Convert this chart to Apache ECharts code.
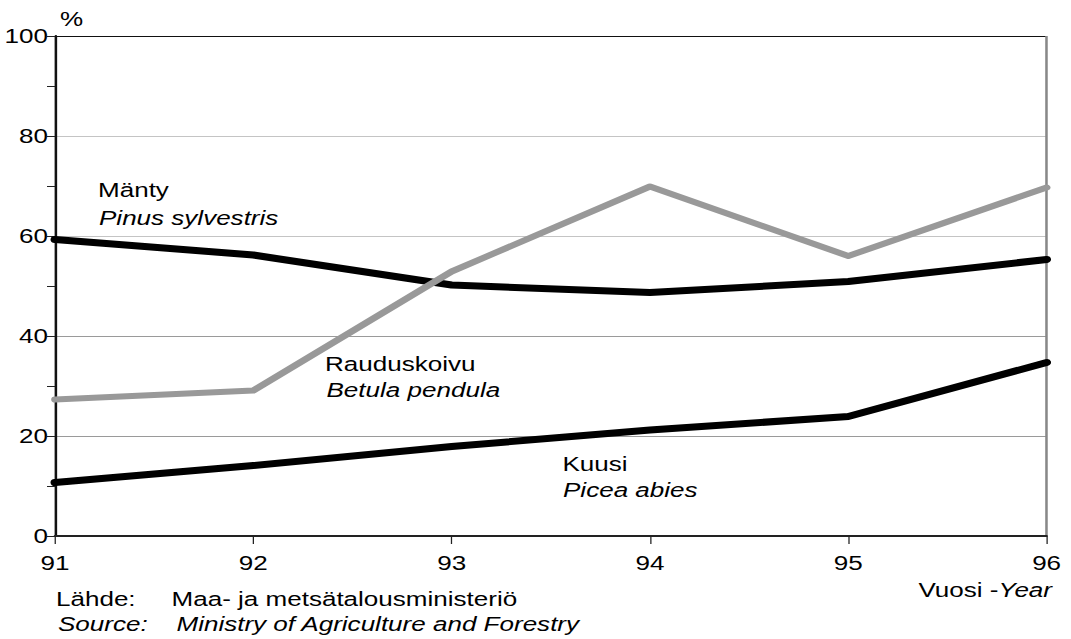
<!DOCTYPE html>
<html>
<head>
<meta charset="utf-8">
<script src="https://cdn.jsdelivr.net/npm/echarts@6/dist/echarts.min.js"></script>
<style>
  html, body { margin: 0; padding: 0; background: #fff; overflow: hidden; }
  #chart { width: 843.3px; height: 639px; transform: scaleX(1.27); transform-origin: 0 0; }
</style>
</head>
<body>
<div id="chart"></div>
<script>
// Data
const years = ['91', '92', '93', '94', '95', '96'];
const manty = [59.3, 56.2, 50.2, 48.7, 50.9, 55.3];
const rauduskoivu = [27.3, 29.1, 52.9, 69.9, 56.0, 69.7];
const kuusi = [10.7, 14.1, 17.9, 21.2, 23.9, 34.7];
const yTicks = [0, 20, 40, 60, 80, 100];

const S = 1.27; // horizontal stretch of the original picture
const FONT = 'Liberation Sans, Arial, sans-serif';
const FS = 20.5;
const px = v => v / S;

const chart = echarts.init(document.getElementById('chart'), null, { renderer: 'svg' });

function txt(text, x, y, italic, align) {
  return {
    type: 'text', x: px(x), y: y,
    style: {
      text: text, fill: '#000',
      font: (italic ? 'italic ' : '') + FS + 'px ' + FONT,
      align: align || 'left', verticalAlign: 'middle'
    }
  };
}

const option = {
  animation: false,
  backgroundColor: '#fff',
  grid: { left: px(55), right: px(24), top: 36, bottom: 103 },
  xAxis: {
    type: 'category',
    data: years,
    boundaryGap: false,
    axisLine: { lineStyle: { color: '#222', width: 2 } },
    axisTick: { show: true, length: 8, lineStyle: { color: '#222', width: 1 } },
    axisLabel: { color: '#000', fontFamily: FONT, fontSize: FS, margin: 16 },
    splitLine: {
      show: true,
      lineStyle: { color: ['rgba(0,0,0,0)', 'rgba(0,0,0,0)', 'rgba(0,0,0,0)', 'rgba(0,0,0,0)', 'rgba(0,0,0,0)', '#888'], width: 2 }
    }
  },
  yAxis: {
    type: 'value',
    min: yTicks[0], max: yTicks[yTicks.length - 1], interval: 20,
    axisLine: { show: true, lineStyle: { color: '#111', width: 2 } },
    axisTick: { show: true, length: px(8), lineStyle: { color: '#222', width: 1 } },
    minorTick: { show: true, splitNumber: 2, length: px(8), lineStyle: { color: '#222', width: 1 } },
    axisLabel: { color: '#000', fontFamily: FONT, fontSize: FS, margin: px(7) },
    splitLine: {
      show: true,
      lineStyle: { color: ['rgba(0,0,0,0)', '#9a9a9a', '#9a9a9a', '#c4c4c4', '#c4c4c4', '#111'], width: 1 }
    }
  },
  series: [
    {
      name: 'Mänty', type: 'line', data: manty, symbol: 'none', clip: false,
      lineStyle: { color: '#000', width: 7, cap: 'round', join: 'round' }, z: 3
    },
    {
      name: 'Kuusi', type: 'line', data: kuusi, symbol: 'none', clip: false,
      lineStyle: { color: '#000', width: 7, cap: 'round', join: 'round' }, z: 3
    },
    {
      name: 'Rauduskoivu', type: 'line', data: rauduskoivu, symbol: 'none', clip: false,
      lineStyle: { color: '#999', width: 6, cap: 'round', join: 'round' }, z: 4
    }
  ],
  graphic: [
    txt('%', 60, 19, false),
    txt('Mänty', 98, 190, false),
    txt('Pinus sylvestris', 99, 218, true),
    txt('Rauduskoivu', 325, 364, false),
    txt('Betula pendula', 326.5, 390.5, true),
    txt('Kuusi', 562.5, 464, false),
    txt('Picea abies', 563, 490.5, true),
    txt('Lähde:', 56, 599, false),
    txt('Maa- ja metsätalousministeriö', 171.5, 599, false),
    txt('Source:', 58, 624, true),
    txt('Ministry of Agriculture and Forestry', 176.5, 624, true),
    {
      type: 'text', x: px(1052), y: 590,
      style: {
        text: '{a|Vuosi -}{b|Year}',
        align: 'right', verticalAlign: 'middle',
        rich: {
          a: { fontFamily: FONT, fontSize: FS, color: '#000' },
          b: { fontFamily: FONT, fontSize: FS, fontStyle: 'italic', color: '#000' }
        }
      }
    }
  ]
};

chart.setOption(option);
</script>
</body>
</html>
